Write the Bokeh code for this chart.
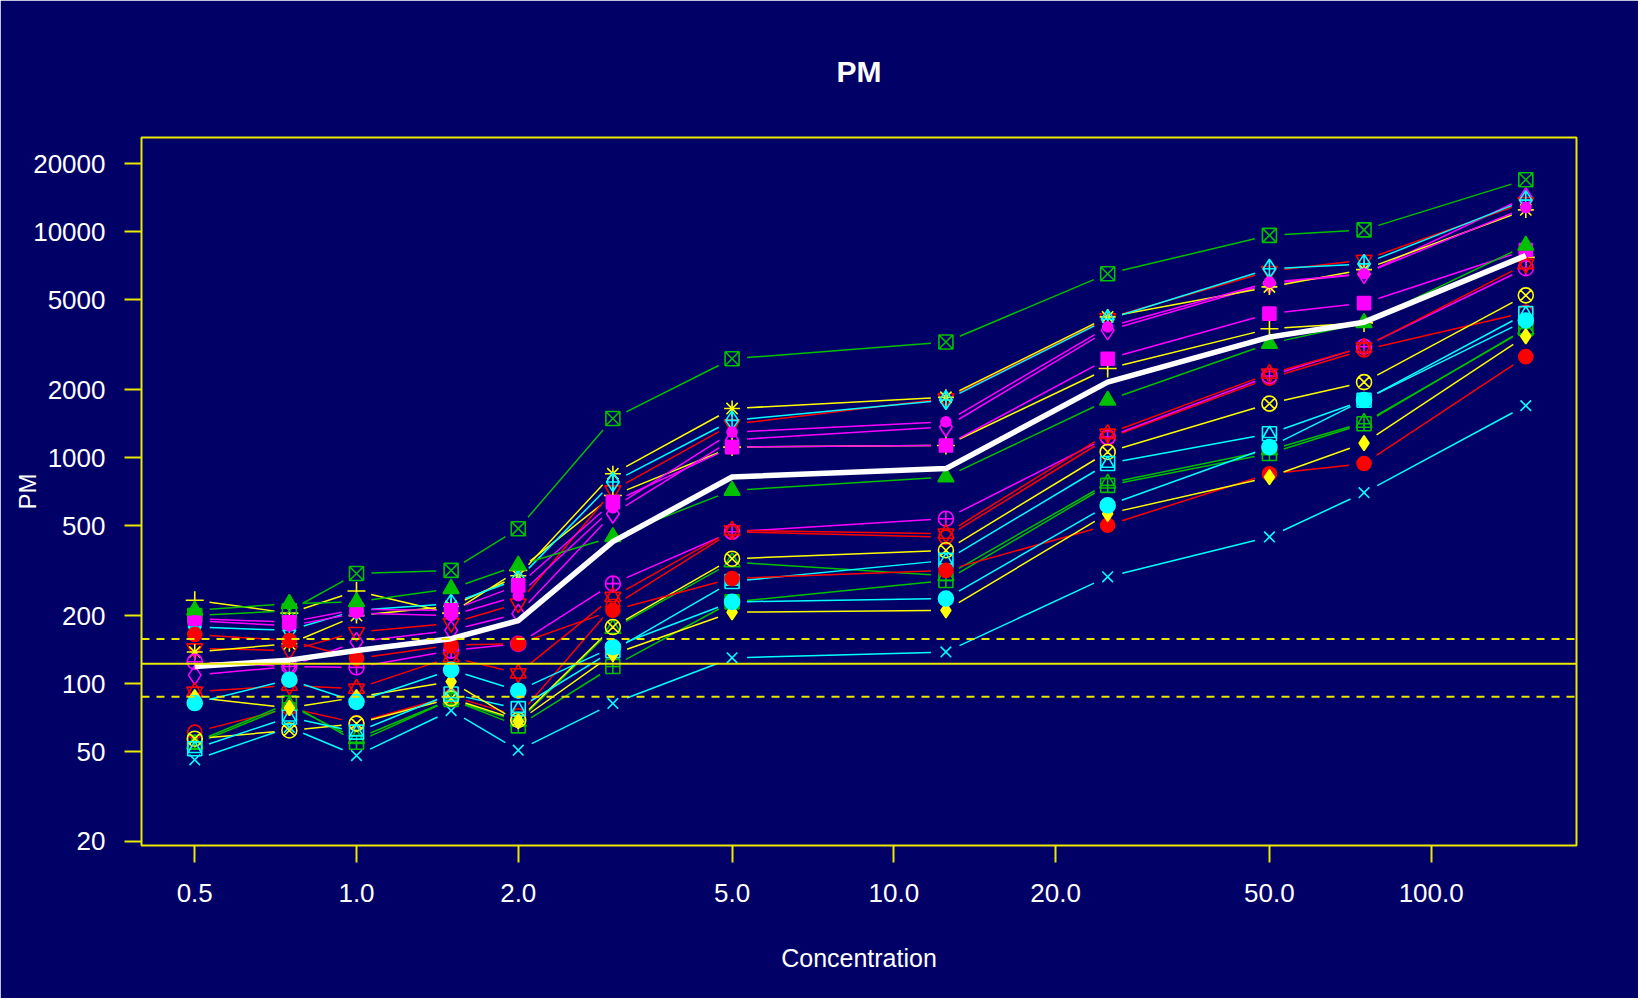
import numpy as np
from bokeh.plotting import figure
from bokeh.models import Range1d, FixedTicker, PrintfTickFormatter, Span
from bokeh.embed import file_html
from bokeh.resources import INLINE

# ---------------- data ----------------
CONC = [0.5, 0.75, 1.0, 1.5, 2.0, 3.0, 5.0, 12.5, 25.0, 50.0, 75.0, 150.0]

S01 = [61, 78, 67, 88, 72, 220, 470, 445, 1220, 2250, 3000, 4400]
S02 = [54, 80, 57, 85, 68, 175, 345, 300, 770, 1080, 1430, 3700]
S03 = [234, 205, 257, 205, 317, 680, 1114, 1133, 2480, 3720, 3950, 7700]
S04 = [46, 64, 48, 76, 50.7, 81.7, 130, 138, 297, 446, 700, 1700]
S05 = [109, 119, 153, 172, 204, 565, 1200, 1368, 3660, 5900, 6500, 14200]
S06 = [143, 140, 169, 185, 226, 716, 1405, 1830, 4140, 6700, 7500, 13500]
S07 = [200, 210, 307, 317, 485, 1490, 2740, 3250, 6520, 9640, 10200, 17000]
S08 = [138, 150, 200, 220, 300, 849, 1650, 1850, 4200, 5700, 6800, 12500]
S09 = [178, 172, 211, 226, 290, 780, 1463, 1800, 4100, 6860, 7210, 13800]
S10 = [125, 119, 118, 140, 150, 277, 470, 537, 1233, 2300, 3100, 6900]
S11 = [92, 98, 95, 131, 111, 242, 477, 461, 1276, 2355, 3080, 7200]
S12 = [55, 82, 55, 85, 65, 119, 230, 286, 754, 1043, 1413, 3730]
S13 = [57, 62, 66.5, 86, 69, 178, 357, 389, 1060, 1735, 2160, 5230]
S14 = [51.5, 71, 61, 90, 77.5, 140, 283, 351, 942, 1276, 1795, 4340]
S15 = [194, 187, 213, 211, 272, 636, 1114, 1133, 2740, 4340, 4830, 8300]
S16 = [165, 155, 129, 148, 150, 211, 292, 317, 502, 849, 942, 2800]
S17 = [211, 226, 230, 263, 334, 446, 716, 821, 1795, 3200, 3950, 8700]
S18 = [87, 78, 87, 102, 68, 135, 207, 211, 565, 820, 1160, 3450]
S19 = [82, 104, 83, 115, 93, 145, 230, 238, 615, 1114, 1800, 4050]
S20 = [190, 180, 205, 200, 245, 600, 1298, 1440, 3790, 5980, 6520, 12800]

CENTER = [119, 127, 140, 158, 190, 425, 821, 895, 2160, 3420, 3980, 7850]

BG_MEAN = 122.5
BG_LOW = 87.5
BG_HIGH = 157.5

XTICKS = [0.5, 1, 2, 5, 10, 20, 50, 100]
YTICKS = [20, 50, 100, 200, 500, 1000, 2000, 5000, 10000, 20000]

SERIES = [S01, S02, S03, S04, S05, S06, S07, S08, S09, S10,
          S11, S12, S13, S14, S15, S16, S17, S18, S19, S20]

# ---------------- style ----------------
NAVY = "#000066"
YEL = "#E8E800"
RED = "#FF0000"
GRN = "#00C000"
YLW = "#FFFF00"
CYN = "#00FFFF"
MAG = "#FF00FF"
COLS = [RED, GRN, YLW, CYN, MAG]
FONT = "Liberation Sans"

XMIN, XMAX = 0.398, 186.4
YMIN, YMAX = 19.2, 26140
FRAME_W, FRAME_H = 1435, 708
GAP = 15.0

p = figure(x_axis_type="log", y_axis_type="log",
           x_range=Range1d(XMIN, XMAX), y_range=Range1d(YMIN, YMAX),
           frame_width=FRAME_W, frame_height=FRAME_H,
           min_border_left=141, min_border_right=62,
           min_border_top=137, min_border_bottom=153,
           output_backend="svg", toolbar_location=None,
           background_fill_color=NAVY, border_fill_color=NAVY,
           outline_line_color=YEL, outline_line_width=2)
p.grid.visible = False

p.title.text = "PM"
p.title.align = "center"
p.title.vertical_align = "middle"
p.title.text_color = "white"
p.title.text_font = FONT
p.title.text_font_size = "30px"
p.title.text_font_style = "bold"
p.title.standoff = 98

for ax, ticks, fmt in ((p.xaxis, XTICKS, "%.1f"), (p.yaxis, YTICKS, "%d")):
    ax.ticker = FixedTicker(ticks=ticks, minor_ticks=[])
    ax.formatter = PrintfTickFormatter(format=fmt)
    ax.axis_line_color = None
    ax.major_tick_line_color = YEL
    ax.major_tick_line_width = 2
    ax.major_tick_out = 17
    ax.major_tick_in = 0
    ax.minor_tick_line_color = None
    ax.major_label_text_color = "white"
    ax.major_label_text_font = FONT
    ax.major_label_text_font_size = "26px"
    ax.axis_label_text_color = "white"
    ax.axis_label_text_font = FONT
    ax.axis_label_text_font_style = "normal"

p.xaxis.axis_label = "Concentration"
p.xaxis.axis_label_text_font_size = "25px"
p.xaxis.major_label_standoff = 21
p.xaxis.axis_label_standoff = 39
p.yaxis.axis_label = "PM"
p.yaxis.axis_label_text_font_size = "24px"
p.yaxis.major_label_standoff = 19
p.yaxis.axis_label_standoff = -11

KX = FRAME_W / (np.log10(XMAX) - np.log10(XMIN))
KY = FRAME_H / (np.log10(YMAX) - np.log10(YMIN))


def gapped(xs, ys):
    """Segments between consecutive points, shortened near the points (type='b')."""
    X = np.log10(np.asarray(xs, float)) * KX
    Y = np.log10(np.asarray(ys, float)) * KY
    out = ([], [], [], [])
    for i in range(len(X) - 1):
        dx, dy = X[i + 1] - X[i], Y[i + 1] - Y[i]
        d = np.hypot(dx, dy)
        if d <= 2 * GAP:
            continue
        t = GAP / d
        ax_, ay_ = X[i] + dx * t, Y[i] + dy * t
        bx_, by_ = X[i + 1] - dx * t, Y[i + 1] - dy * t
        out[0].append(10 ** (ax_ / KX)); out[1].append(10 ** (ay_ / KY))
        out[2].append(10 ** (bx_ / KX)); out[3].append(10 ** (by_ / KY))
    return out


# marker specs per pch 1..20: list of (marker, size, filled)
PCH = {
    1: [("circle", 14, False)],
    2: [("triangle", 16, False)],
    3: [("cross", 18, False)],
    4: [("x", 15, False)],
    5: [("diamond", 19, False)],
    6: [("inverted_triangle", 16, False)],
    7: [("square_x", 14, False)],
    8: [("asterisk", 16, False)],
    9: [("diamond_cross", 19, False)],
    10: [("circle_cross", 15, False)],
    11: [("triangle", 16, False), ("inverted_triangle", 16, False)],
    12: [("square_cross", 14, False)],
    13: [("circle_x", 15, False)],
    14: [("square", 14, False), ("triangle", 13, False)],
    15: [("square", 13, True)],
    16: [("circle", 14, True)],
    17: [("triangle", 16, True)],
    18: [("diamond", 15, True)],
    19: [("circle", 15, True)],
    20: [("circle", 10, True)],
}

for k, vals in enumerate(SERIES):
    col = COLS[k % 5]
    x0, y0, x1, y1 = gapped(CONC, vals)
    p.segment(x0=x0, y0=y0, x1=x1, y1=y1, line_color=col, line_width=1.5)
    for mk, sz, filled in PCH[k + 1]:
        p.scatter(x=CONC, y=vals, marker=mk, size=sz,
                  line_color=col, line_width=1.6,
                  fill_color=col if filled else None)

p.line(x=CONC, y=CENTER, line_color="white", line_width=5.5)

p.add_layout(Span(location=BG_MEAN, dimension="width", line_color=YEL, line_width=2))
for loc in (BG_LOW, BG_HIGH):
    p.add_layout(Span(location=loc, dimension="width", line_color=YEL,
                      line_width=2, line_dash="8 7"))

open("out.html", "w").write(file_html(p, INLINE))
